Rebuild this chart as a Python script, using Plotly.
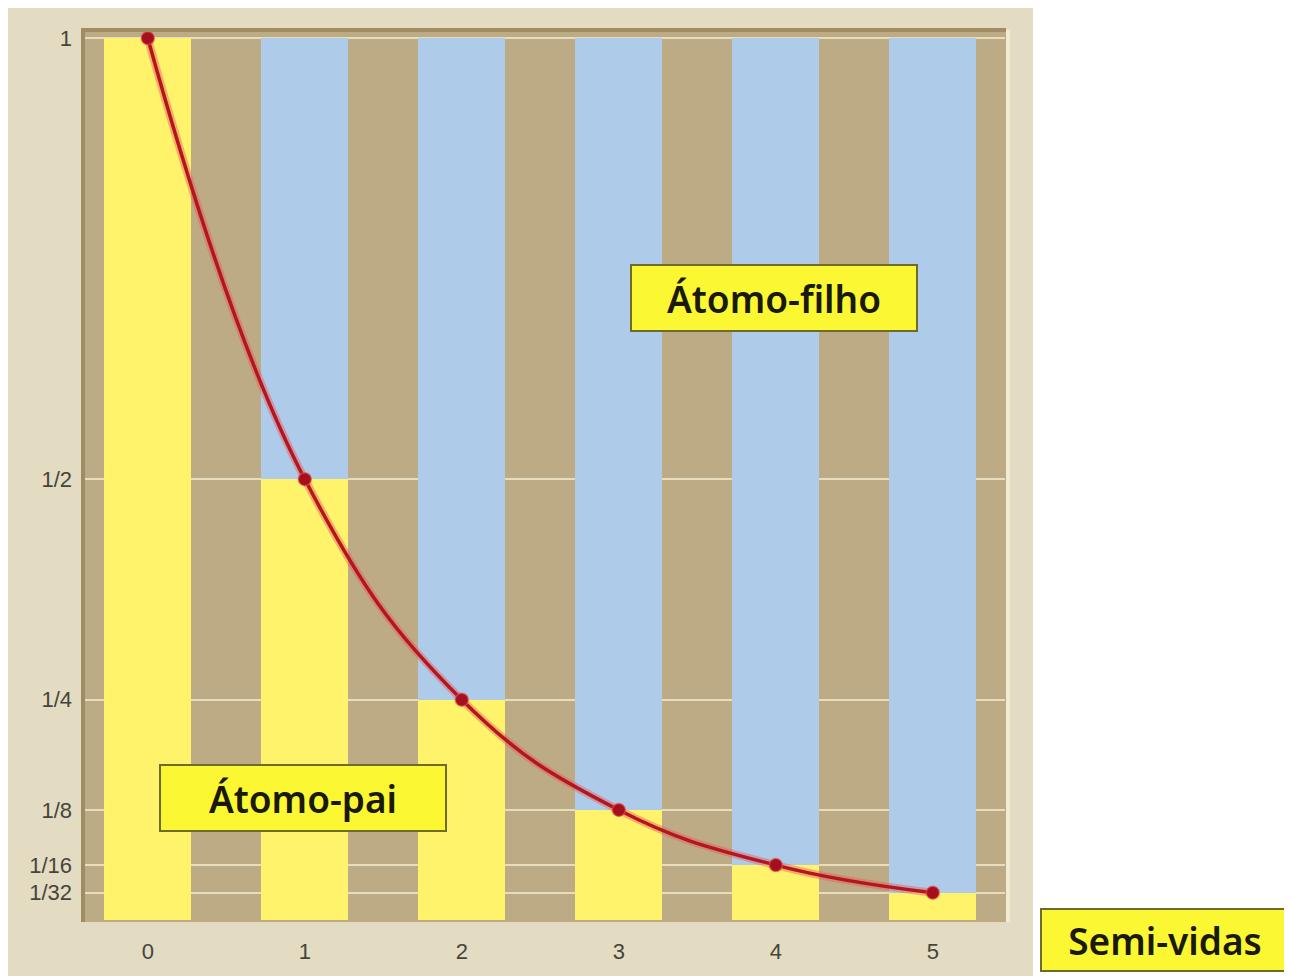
import plotly.graph_objects as go

half_lives = [0, 1, 2, 3, 4, 5]
parent_frac = [1, 1/2, 1/4, 1/8, 1/16, 1/32]
daughter_frac = [0, 1/2, 3/4, 7/8, 15/16, 31/32]
x_tick_labels = ["0", "1", "2", "3", "4", "5"]
y_tick_vals = [1, 1/2, 1/4, 1/8, 1/16, 1/32]
y_tick_labels = ["1", "1/2", "1/4", "1/8", "1/16", "1/32"]

OFF = 8  # page body margin
W, H = 1292 - OFF, 976 - OFF
L, R, T, B = 85 - OFF, 1005 - OFF, 32 - OFF, 922 - OFF

def px(xp):
    return (xp - OFF - L) / (R - L)

def py(yp):
    return (B - (yp - OFF)) / (B - T)

fig = go.Figure()
fig.add_trace(go.Bar(x=half_lives, y=parent_frac, width=0.555,
                     marker=dict(color="#fff36c", line=dict(width=0)),
                     hoverinfo="skip", showlegend=False))
fig.add_trace(go.Bar(x=half_lives, y=daughter_frac, width=0.555,
                     marker=dict(color="#aecbe9", line=dict(width=0)),
                     hoverinfo="skip", showlegend=False))
fig.add_trace(go.Scatter(x=half_lives, y=parent_frac, mode="lines",
                         line=dict(color="rgba(235,90,90,0.45)", width=8, shape="spline", smoothing=1.2),
                         hoverinfo="skip", showlegend=False))
fig.add_trace(go.Scatter(x=half_lives, y=parent_frac, mode="lines+markers",
                         line=dict(color="#b3161f", width=3.5, shape="spline", smoothing=1.2),
                         marker=dict(color="#a50f1e", size=13, line=dict(color="rgba(230,80,80,0.6)", width=1.5)),
                         showlegend=False))

shapes = [
    dict(type="rect", xref="paper", yref="paper", x0=px(8), x1=px(1033), y0=py(980), y1=py(4),
         fillcolor="#e4dbc3", line=dict(width=0), layer="below"),
    dict(type="rect", xref="paper", yref="paper", x0=px(82), x1=px(1006), y0=py(922), y1=py(29),
         fillcolor="#bcab84", line=dict(width=0), layer="below"),
    dict(type="line", xref="paper", yref="paper", x0=px(81), x1=px(1006), y0=py(30), y1=py(30),
         line=dict(color="#9f8e64", width=4), layer="above"),
    dict(type="line", xref="paper", yref="paper", x0=px(83), x1=px(83), y0=py(922), y1=py(30),
         line=dict(color="#9f8e64", width=4), layer="above"),
    dict(type="line", xref="paper", yref="paper", x0=px(1008), x1=px(1008), y0=py(922), y1=py(30),
         line=dict(color="#f2ead2", width=4), layer="above"),
]

box_font = dict(family="Noto Sans, DejaVu Sans, sans-serif", size=37, color="#1a1a0a", weight=600)
box_common = dict(showarrow=False, font=box_font, bgcolor="#fcf733", bordercolor="#6e6c2c",
                  borderwidth=2, align="center", xanchor="center", yanchor="middle")
annotations = [
    dict(text="Átomo-filho", x=3.99, y=0.705, xref="x", yref="y", width=282, height=62, **box_common),
    dict(text="Átomo-pai", x=0.99, y=0.139, xref="x", yref="y", width=282, height=62, **box_common),
    dict(text="Semi-vidas", x=px(1165), y=py(940), xref="paper", yref="paper", width=244, height=58, **box_common),
]

tick_font = dict(family="Liberation Sans Narrow, Liberation Sans, DejaVu Sans Condensed, sans-serif",
                 size=22, color="#45453a")

fig.update_layout(
    width=W, height=H,
    margin=dict(l=L, r=W - R, t=T, b=H - B, pad=0),
    barmode="stack", bargap=0,
    paper_bgcolor="white", plot_bgcolor="#bcab84",
    shapes=shapes, annotations=annotations,
    xaxis=dict(range=[-0.40, 5.46], tickvals=half_lives, ticktext=x_tick_labels,
               showgrid=False, zeroline=False, showline=False, ticks="",
               tickfont=tick_font, ticklabelstandoff=14, fixedrange=True),
    yaxis=dict(range=[-0.002, 1.007], tickvals=y_tick_vals, ticktext=y_tick_labels,
               showgrid=True, gridcolor="rgba(245,236,205,0.75)", gridwidth=2,
               zeroline=False, showline=False, ticks="",
               tickfont=tick_font, ticklabelstandoff=12, fixedrange=True),
)

fig.write_html("out.html")
